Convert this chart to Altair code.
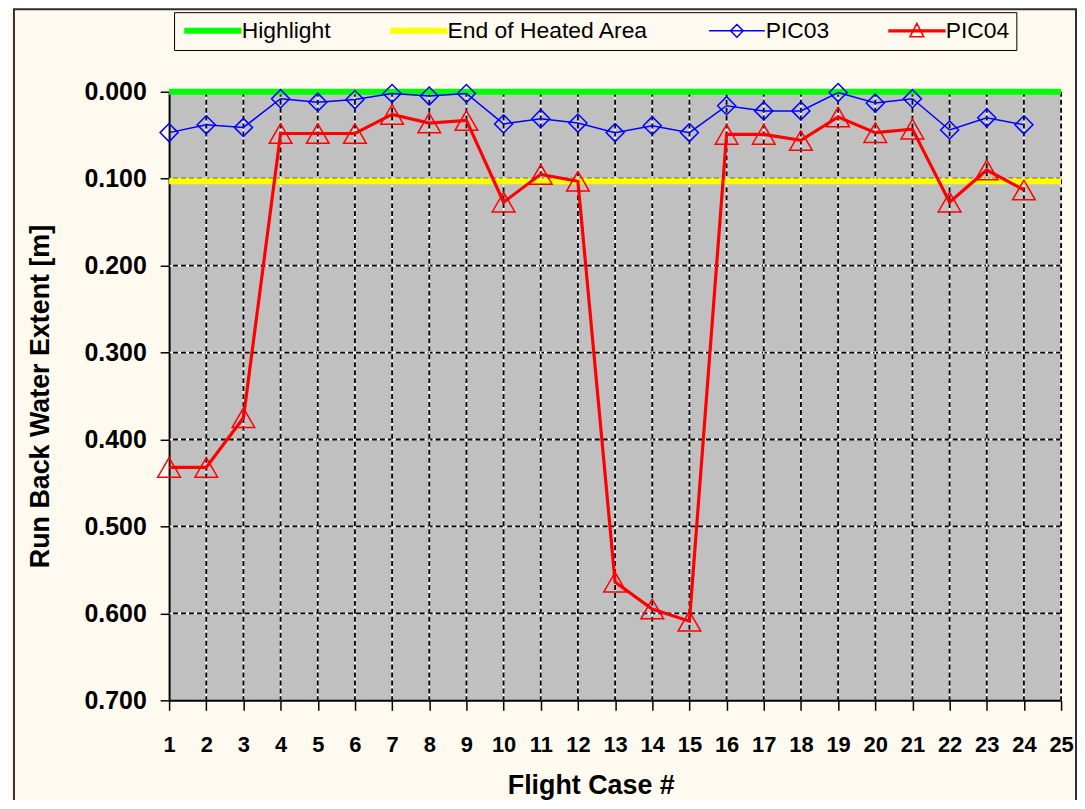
import altair as alt
import pandas as pd

# ---------------- data ----------------
cases = list(range(1, 25))
pic03 = [0.047, 0.038, 0.041, 0.008, 0.012, 0.009, 0.002, 0.005, 0.002, 0.037,
         0.031, 0.036, 0.047, 0.039, 0.047, 0.016, 0.022, 0.022, 0.001, 0.013,
         0.008, 0.044, 0.030, 0.038]
pic04 = [0.432, 0.432, 0.375, 0.048, 0.048, 0.048, 0.026, 0.036, 0.033, 0.127,
         0.095, 0.103, 0.564, 0.595, 0.609, 0.049, 0.049, 0.056, 0.029, 0.047,
         0.043, 0.127, 0.090, 0.113]
ref_names = ["Highlight", "End of Heated Area"]
ref_values = [0.000, 0.103]
series_names = ["Highlight", "End of Heated Area", "PIC03", "PIC04"]
series_colors = ["#00FF00", "#FFFF00", "#0000FF", "#FF0000"]
x_ticks = list(range(1, 26))
y_ticks = [0.0, 0.1, 0.2, 0.3, 0.4, 0.5, 0.6, 0.7]
x_grid = list(range(2, 26))
y_grid = [0.1, 0.2, 0.3, 0.4, 0.5, 0.6]

df = pd.DataFrame({
    "case": cases + cases,
    "value": pic03 + pic04,
    "series": ["PIC03"] * len(cases) + ["PIC04"] * len(cases),
})
ref_df = pd.DataFrame({"series": ref_names, "value": ref_values, "case": [x_ticks[0]] * 2})
legend_df = pd.concat([ref_df, df], ignore_index=True)
xg_df = pd.DataFrame({"case": x_grid})
yg_df = pd.DataFrame({"value": y_grid})
frame_df = pd.DataFrame({"frame": [0]})

# ---------------- styles ----------------
CREAM = "#FFFAF0"
FONT = "Liberation Sans"

x_scale = alt.Scale(domain=[1, 25], nice=False, zero=False)
y_scale = alt.Scale(domain=[0, 0.7], reverse=True, nice=False, zero=False)
color_scale = alt.Scale(domain=series_names, range=series_colors)
# legend symbols: line segment (+ hollow marker drawn twice in opposite
# directions so it is not filled); extent markers keep all symbols equal height
EXT = "M2.73,-1L2.73,-1M2.73,0.8L2.73,0.8"
shape_scale = alt.Scale(domain=series_names, range=[
    "M-1,-0.3H6.47V0.3H-1Z" + EXT,
    "M-1,-0.3H6.47V0.3H-1Z" + EXT,
    "M-1,0H6.47M2.73,-0.85L3.58,0L2.73,0.85L1.88,0ZM2.73,-0.85L1.88,0L2.73,0.85L3.58,0Z" + EXT,
    "M-1,-0.12H6.47V0.12H-1ZM2.73,-1L3.66,0.8L1.8,0.8ZM2.73,-1L1.8,0.8L3.66,0.8Z" + EXT,
])

LEG = alt.Legend(
    title=None, orient="none", legendX=5, legendY=-80, direction="horizontal",
    columns=4, padding=7, strokeColor="#000000", fillColor=CREAM,
    labelFont=FONT, labelFontSize=23, labelColor="#000000", labelLimit=400,
    symbolSize=225, symbolOpacity=1, symbolStrokeWidth=1.5,
    columnPadding=56, labelOffset=38,
)

x_axis = alt.Axis(
    values=x_ticks, format="d", grid=False, domainColor="#000000", domainWidth=2,
    tickColor="#000000", tickWidth=1.5, tickSize=10, labelFont=FONT,
    labelFontSize=22, labelFontWeight="bold", labelColor="#000000", labelPadding=24,
    labelFlush=False, labelOverlap=False, title="Flight Case #", titleFont=FONT,
    titleFontSize=27, titleFontWeight="bold", titleColor="#000000", titlePadding=18,
    titleX=424,
)
y_axis = alt.Axis(
    values=y_ticks, format=".3f", grid=False, domainColor="#000000", domainWidth=2,
    tickColor="#000000", tickWidth=1.5, tickSize=9, labelFont=FONT,
    labelFontSize=25, labelFontWeight="bold", labelColor="#000000", labelPadding=14,
    labelOverlap=False, title="Run Back Water Extent [m]", titleFont=FONT,
    titleFontSize=27, titleFontWeight="bold", titleColor="#000000", titlePadding=30,
)


def X():
    return alt.X("case:Q", scale=x_scale, axis=x_axis)


def Y():
    return alt.Y("value:Q", scale=y_scale, axis=y_axis)


def C():
    return alt.Color("series:N", scale=color_scale, legend=LEG)


# chart-area frame (decoration around the whole figure)
frame = alt.Chart(frame_df).mark_rect(
    fill=None, stroke="#303030", strokeWidth=2, clip=False
).encode(x=alt.value(-156), x2=alt.value(912), y=alt.value(-83), y2=alt.value(730))

# grid lines: white under-line + black dashes
hg_white = alt.Chart(yg_df).mark_rule(color="#FFFFFF", strokeWidth=1.5).encode(y=Y())
hg_black = alt.Chart(yg_df).mark_rule(color="#000000", strokeWidth=1.8, strokeDash=[5, 3]).encode(y=Y())
vg_white = alt.Chart(xg_df).mark_rule(color="#FFFFFF", strokeWidth=1.5).encode(x=X())
vg_black = alt.Chart(xg_df).mark_rule(color="#000000", strokeWidth=1.8, strokeDash=[5, 3]).encode(x=X())

ref_rules = alt.Chart(ref_df).mark_rule(strokeWidth=6).encode(y=Y(), color=C())

lines03 = alt.Chart(df).transform_filter(alt.datum.series == "PIC03").mark_line(strokeWidth=1.5).encode(
    x=X(), y=Y(), color=C()
)
lines04 = alt.Chart(df).transform_filter(alt.datum.series == "PIC04").mark_line(strokeWidth=3.2).encode(
    x=X(), y=Y(), color=C()
)
pts03 = alt.Chart(df).transform_filter(alt.datum.series == "PIC03").mark_point(
    shape="diamond", size=330, filled=False, strokeWidth=1.5, opacity=1
).encode(x=X(), y=Y(), color=C())
pts04 = alt.Chart(df).transform_filter(alt.datum.series == "PIC04").mark_point(
    shape="triangle-up", size=520, filled=False, strokeWidth=1.5, opacity=1
).encode(x=X(), y=Y(), color=C())

legend_layer = alt.Chart(legend_df).mark_point(filled=True, opacity=0).encode(
    x=X(), y=Y(),
    color=C(),
    shape=alt.Shape("series:N", scale=shape_scale, legend=LEG),
)

chart = alt.layer(
    frame, hg_white, hg_black, vg_white, vg_black, ref_rules, lines03, lines04, pts03, pts04, legend_layer
).properties(
    width=897, height=612, background=CREAM,
    autosize=alt.AutoSizeParams(type="none"),
    padding={"left": 162, "top": 82, "right": 16, "bottom": 98},
).configure_view(
    fill="#C0C0C0", stroke=None
)

chart.save("out.html", embed_options={"renderer": "svg", "actions": False})
